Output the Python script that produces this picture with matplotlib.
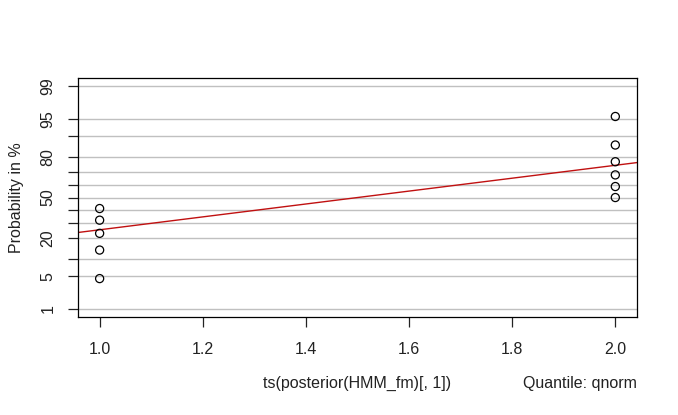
from statistics import NormalDist

import numpy as np
import matplotlib
matplotlib.use("Agg")
import matplotlib.pyplot as plt

plt.rcParams['font.family'] = ['Liberation Sans', 'DejaVu Sans']

# data: sample values (x) and their plotting positions in % (y)
x_vals = [1, 1, 1, 1, 1, 2, 2, 2, 2, 2, 2]
prob_pct = [4.5, 13.6, 22.7, 31.8, 40.9, 50.0, 59.1, 68.2, 77.3, 86.4, 95.5]

grid_pct = [1, 5, 10, 20, 30, 40, 50, 60, 70, 80, 90, 95, 99]
label_pct = [1, 5, 20, 50, 80, 95, 99]
x_ticks = [1.0, 1.2, 1.4, 1.6, 1.8, 2.0]

nd = NormalDist()
_inv = np.vectorize(nd.inv_cdf, otypes=[float])
_cdf = np.vectorize(nd.cdf, otypes=[float])


def fwd(p):
    p = np.clip(np.asarray(p, dtype=float) / 100.0, 1e-9, 1 - 1e-9)
    return _inv(p)


def inv(z):
    return _cdf(np.asarray(z, dtype=float)) * 100.0


FS = 11.5

fig = plt.figure(figsize=(6.78, 4.15), dpi=100)
ax = fig.add_axes([0.115, 0.236, 0.8245, 0.576])
ax.set_yscale('function', functions=(fwd, inv))

# grid lines
for p in grid_pct:
    ax.axhline(p, color='#c0c0c0', lw=1, zorder=1)

ax.scatter(x_vals, prob_pct, s=34, facecolors='none', edgecolors='black',
           linewidths=0.9, zorder=3)

# reference line through the quartiles (like qqline)
xq = np.quantile(x_vals, [0.25, 0.75])
zq = fwd([25, 75])
slope = (zq[1] - zq[0]) / (xq[1] - xq[0])
icpt = zq[0] - slope * xq[0]
xl = np.array([0.9, 2.1])
ax.plot(xl, inv(icpt + slope * xl), color='#c01010', lw=1, zorder=2)

ax.set_xlim(0.958, 2.042)
ax.set_ylim(inv(-2.5), inv(2.5))

ax.set_xticks(x_ticks)
ax.set_xticklabels(['%.1f' % v for v in x_ticks])
ax.set_yticks(grid_pct)
ax.set_yticklabels([str(p) if p in label_pct else '' for p in grid_pct],
                   rotation=90, va='center')
ax.minorticks_off()
ax.tick_params(axis='both', length=7, width=0.9, labelsize=FS, colors='#222222')
ax.tick_params(axis='x', pad=11)
ax.tick_params(axis='y', pad=9)
for s in ax.spines.values():
    s.set_linewidth(0.9)

ax.set_ylabel('Probability in %', fontsize=FS, labelpad=12, color='#222222')
fig.text(0.527, 0.077, 'ts(posterior(HMM_fm)[, 1])', ha='center', va='center',
         fontsize=FS, color='#222222')
fig.text(0.9395, 0.077, 'Quantile: qnorm', ha='right', va='center',
         fontsize=FS, color='#222222')

fig.savefig('out.png', dpi=100)
